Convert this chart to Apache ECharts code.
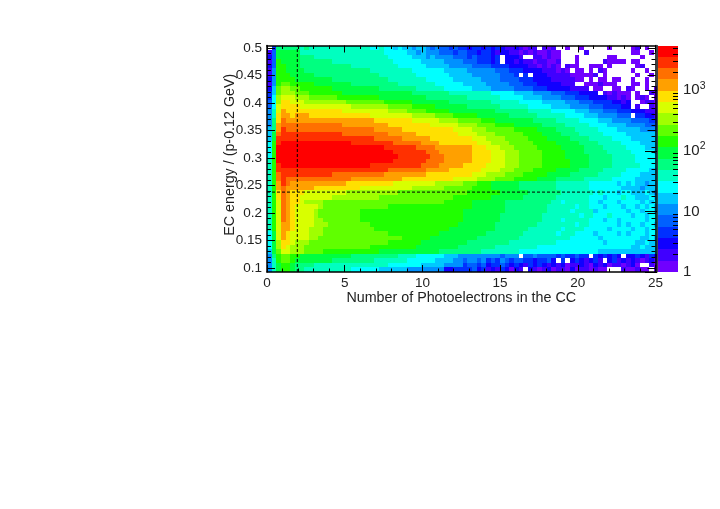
<!DOCTYPE html>
<html>
<head>
<meta charset="utf-8">
<style>
html, body { margin: 0; background: #fff; }
#chart { width: 720px; height: 509px; }
</style>
<script src="https://cdn.jsdelivr.net/npm/echarts@6/dist/echarts.min.js"></script>
</head>
<body>
<div id="chart"></div>
<script>
// bin layout of the 2D histogram
const xBinWidth = 0.3
const yTop = 0.505
const yBottom = 0.0925
const yBinWidth = (yTop - yBottom) / 50
const zMax = 5500

const yTicks = [0.1, 0.15, 0.2, 0.25, 0.3, 0.35, 0.4, 0.45, 0.5]
const yMinorTicks = [0.1, 0.11, 0.12, 0.13, 0.14, 0.15, 0.16, 0.17, 0.18, 0.19, 0.2, 0.21, 0.22, 0.23, 0.24, 0.25, 0.26, 0.27, 0.28, 0.29, 0.3, 0.31, 0.32, 0.33, 0.34, 0.35, 0.36, 0.37, 0.38, 0.39, 0.4, 0.41, 0.42, 0.43, 0.44, 0.45, 0.46, 0.47, 0.48, 0.49, 0.5]
const zTicks = [1, 10, 100, 1000]
const zMinorTicks = [2, 3, 4, 5, 6, 7, 8, 9, 20, 30, 40, 50, 60, 70, 80, 90, 200, 300, 400, 500, 600, 700, 800, 900, 2000, 3000, 4000, 5000]
const cutX = 1.95
const cutY = 0.238

const palette = ['#7000ff', '#4000ff', '#1000ff', '#0030ff', '#0060ff', '#0090ff', '#00c8ff', '#00ffff', '#00ffc0', '#00ff80',
  '#00ff40', '#20ff00', '#60ff00', '#a0ff00', '#d8ff00', '#ffe000', '#ffa000', '#ff7000', '#ff3000', '#ff0000']

// counts per cell, first row is the top of the plot, one entry per 0.3 in x
const counts = [
[0,5,60,60,60,60,60,38,60,38,38,38,38,38,38,38,38,38,38,38,38,38,25,25,38,25,25,16,25,16,16,11,16,16,11,7,11,7,7,5,7,5,5,3,5,5,3,5,3,5,3,2,2,3,2,1,2,2,0,2,1,2,0,0,1,0,0,1,0,0,0,0,0,1,0,0,0,0,1,2,0,1,0,0],
[2,7,92,92,92,92,92,38,38,38,38,38,38,38,38,38,38,38,38,38,38,38,38,38,38,25,25,25,25,25,16,16,11,16,11,11,11,7,7,7,5,7,7,5,5,3,5,5,3,2,3,3,2,2,1,2,1,2,1,1,2,1,1,0,0,0,0,0,2,0,0,0,0,0,0,0,0,0,1,1,0,0,1,0],
[3,7,92,92,92,92,92,60,60,60,38,38,38,38,38,38,38,38,38,38,38,38,38,38,38,38,25,25,25,25,25,16,16,16,11,16,11,11,11,11,7,7,7,5,7,5,5,5,3,5,0,3,3,3,2,0,0,2,2,1,2,1,1,0,0,0,1,0,0,0,0,0,0,1,1,0,0,0,0,0,1,0,0,0],
[2,7,140,92,92,92,92,60,60,60,60,60,60,60,38,38,38,38,38,38,38,38,38,38,38,38,38,25,25,25,25,25,25,16,16,16,16,16,11,11,11,11,7,7,7,5,5,5,3,5,0,3,3,2,3,2,2,1,2,2,1,1,2,0,0,0,1,0,0,0,0,0,2,1,1,1,1,0,1,1,0,0,0,0],
[3,7,140,140,92,92,92,60,60,60,60,60,60,60,60,60,60,60,38,38,38,38,38,38,38,38,38,38,25,25,25,25,25,25,16,16,16,16,16,11,11,11,11,11,7,7,7,7,5,5,5,5,3,3,3,3,2,2,1,2,1,2,1,0,2,1,1,0,0,1,1,1,0,1,0,0,0,0,0,1,2,0,0,0],
[2,11,140,140,92,92,92,92,60,60,60,60,60,60,60,60,60,60,60,60,60,60,38,38,38,38,38,38,38,38,38,25,25,25,25,25,25,25,16,16,16,16,16,11,11,11,11,11,11,7,7,7,5,5,5,3,3,3,3,2,2,2,1,2,1,0,1,1,0,1,0,2,1,0,0,0,0,0,1,0,0,1,0,0],
[2,11,140,140,140,92,92,92,92,92,60,60,60,60,60,60,60,60,60,60,60,60,60,60,38,38,38,38,38,38,38,38,25,25,25,25,25,25,25,16,16,16,16,16,11,11,11,11,11,11,7,7,7,5,0,5,0,3,3,3,2,2,2,2,2,1,1,1,1,1,2,0,1,0,0,0,0,0,0,1,0,0,1,0],
[3,11,140,140,140,140,92,92,92,92,92,92,92,92,60,60,60,60,60,60,60,60,60,60,60,60,38,38,38,38,38,38,38,38,25,25,25,25,25,25,16,16,16,16,16,16,11,11,11,11,7,7,7,7,5,5,5,3,3,3,3,2,2,2,2,2,1,1,0,1,0,1,1,0,1,1,0,0,1,0,0,1,0,0],
[2,11,140,215,215,140,140,140,140,140,92,92,92,92,92,92,92,92,60,60,60,60,60,60,60,60,60,60,38,38,38,38,38,38,38,38,25,25,25,25,25,25,16,16,16,16,16,11,11,11,11,11,7,7,7,5,5,5,3,3,3,3,3,2,2,2,0,0,1,1,1,2,1,1,1,0,0,0,1,1,0,1,0,0],
[3,16,215,330,330,215,215,140,140,140,140,140,140,140,92,92,92,92,92,92,92,92,92,92,60,60,60,60,60,60,60,60,38,38,38,38,38,38,25,25,25,25,25,25,16,16,16,16,11,11,11,11,11,7,7,7,7,5,5,5,3,3,3,3,3,2,2,2,2,0,1,1,0,0,1,1,0,2,1,0,0,1,0,1],
[5,16,215,330,330,330,215,215,215,140,140,140,140,140,140,140,92,92,92,92,92,92,92,92,92,92,92,92,92,92,92,60,60,60,60,60,60,60,60,38,38,38,38,38,38,38,38,38,25,25,25,25,25,16,16,16,16,11,11,11,11,7,7,7,5,5,5,3,3,3,3,0,2,1,2,1,1,1,0,1,0,0,2,1],
[5,25,330,510,510,510,330,330,330,215,215,215,215,215,215,140,140,140,140,140,140,140,140,140,92,92,92,92,92,92,92,92,92,92,60,60,60,60,60,60,60,60,60,38,38,38,38,38,38,38,25,25,25,25,25,16,16,16,16,11,11,11,11,7,7,7,5,5,5,3,3,3,3,2,2,1,2,1,0,1,2,1,0,1],
[7,25,330,790,790,510,510,510,330,330,330,330,330,330,330,330,330,215,215,215,215,215,215,215,215,140,140,140,140,140,140,92,92,92,92,92,92,92,92,60,60,60,60,60,60,60,60,60,38,38,38,38,38,38,25,25,25,25,25,16,16,16,16,16,11,11,11,7,7,7,5,5,5,5,3,3,2,3,0,0,1,2,2,1],
[7,25,510,790,790,790,790,510,510,510,510,510,510,510,510,510,510,510,330,330,330,330,330,330,330,330,215,215,215,215,215,140,140,140,140,140,92,92,92,92,92,92,92,60,60,60,60,60,60,60,38,38,38,38,38,38,25,25,25,25,25,16,16,16,16,11,11,11,11,7,7,7,5,5,5,5,3,3,0,2,0,0,2,1],
[11,38,510,1200,790,790,790,790,790,790,790,790,790,790,790,790,510,510,510,510,510,510,510,510,510,510,330,330,330,330,215,215,215,215,140,140,140,140,140,92,92,92,92,92,92,92,92,92,92,60,60,60,60,60,60,60,38,38,38,38,38,25,25,25,25,25,16,16,16,11,11,11,7,7,7,5,5,5,3,3,3,2,2,2],
[11,38,790,1200,1200,790,1200,1200,1200,790,790,790,790,790,790,790,790,790,790,790,790,790,510,510,510,510,510,510,510,510,510,330,330,330,330,330,215,215,215,215,140,140,140,140,140,92,92,92,92,92,92,92,60,60,60,60,60,60,38,38,38,38,38,38,25,25,25,25,16,16,16,11,11,11,11,7,7,7,0,5,5,3,3,2],
[11,60,790,1850,1200,1200,1200,1200,1200,1200,1200,1200,1200,1200,1200,1200,1200,1200,1200,1200,1200,1200,1200,790,790,790,790,790,790,790,790,510,510,510,510,510,510,330,330,330,330,215,215,215,215,215,140,140,140,92,92,92,92,92,92,92,92,60,60,60,60,60,38,38,38,38,38,25,25,25,25,16,16,16,11,11,11,11,7,7,7,7,5,5],
[11,60,1200,1850,1850,1850,1850,1850,1850,1850,1850,1850,1850,1850,1850,1850,1200,1200,1200,1200,1200,1200,1200,1200,1200,1200,790,790,790,790,790,790,790,790,790,510,510,510,510,510,510,330,330,330,330,215,215,215,215,140,140,140,140,92,92,92,92,92,92,60,60,60,60,60,38,38,38,38,38,25,25,25,25,16,16,16,16,11,11,11,11,7,7,7],
[16,60,1200,2900,1850,1850,1850,1850,1850,1850,1850,1850,1850,1850,1850,1850,1850,1850,1850,1850,1850,1850,1850,1200,1200,1200,1200,1200,1200,790,790,790,790,790,790,790,790,790,790,790,510,510,510,510,330,330,330,215,215,215,215,215,215,140,140,140,140,140,92,92,92,92,60,60,60,60,38,38,38,38,38,25,25,25,25,16,16,16,16,16,11,11,11,11],
[16,92,1850,2900,2900,2900,2900,2900,2900,2900,2900,2900,2900,2900,2900,2900,1850,1850,1850,1850,1850,1850,1850,1850,1850,1850,1200,1200,1200,1200,1200,1200,790,790,790,790,790,790,790,790,790,510,510,510,510,330,330,330,330,215,215,215,215,215,215,140,140,140,140,92,92,92,92,60,60,60,60,38,38,38,38,38,25,25,25,25,25,16,16,16,16,16,16,16],
[16,92,2900,2900,2900,2900,2900,2900,2900,2900,2900,2900,2900,2900,2900,2900,2900,2900,2900,2900,2900,2900,2900,1850,1850,1850,1850,1850,1850,1200,1200,1200,1200,1200,1200,790,790,790,790,790,790,790,790,790,510,510,510,330,330,330,330,215,215,215,215,215,140,140,140,140,92,92,92,92,92,60,60,60,60,38,38,38,38,38,25,25,25,25,16,16,16,16,16,16],
[25,140,2900,4400,4400,4400,4400,4400,4400,4400,4400,4400,4400,4400,4400,4400,4400,4400,2900,2900,2900,2900,2900,2900,2900,2900,2900,1850,1850,1850,1850,1850,1850,1200,1200,1200,1200,790,790,790,790,790,790,790,790,510,510,510,330,330,330,330,215,215,215,215,215,140,140,140,140,140,92,92,92,92,92,60,60,60,60,38,38,38,38,38,25,25,25,25,16,16,16,16],
[25,140,4400,4400,4400,4400,4400,4400,4400,4400,4400,4400,4400,4400,4400,4400,4400,4400,4400,4400,4400,4400,4400,4400,4400,2900,2900,2900,2900,2900,2900,2900,1850,1850,1850,1850,1200,1200,1200,1200,1200,1200,1200,1200,790,790,790,510,510,510,330,330,330,215,215,215,215,215,140,140,140,140,140,92,92,92,92,92,60,60,60,60,38,38,38,38,38,25,25,25,25,16,16,16],
[25,140,4400,4400,4400,4400,4400,4400,4400,4400,4400,4400,4400,4400,4400,4400,4400,4400,4400,4400,4400,4400,4400,4400,4400,4400,4400,2900,2900,2900,2900,2900,2900,2900,1850,1850,1850,1200,1200,1200,1200,1200,1200,1200,790,790,790,790,510,510,510,330,330,330,215,215,215,215,215,140,140,140,140,140,92,92,92,92,60,60,60,60,60,38,38,38,38,38,25,25,25,25,25,16],
[25,140,4400,4400,4400,4400,4400,4400,4400,4400,4400,4400,4400,4400,4400,4400,4400,4400,4400,4400,4400,4400,4400,4400,4400,4400,4400,4400,2900,2900,2900,2900,2900,2900,2900,1850,1850,1850,1200,1200,1200,1200,1200,1200,790,790,790,790,510,510,510,330,330,330,215,215,215,215,215,140,140,140,140,140,92,92,92,92,92,60,60,60,60,60,38,38,38,38,38,25,25,25,25,25],
[38,140,4400,4400,4400,4400,4400,4400,4400,4400,4400,4400,4400,4400,4400,4400,4400,4400,4400,4400,4400,4400,4400,4400,4400,4400,4400,2900,2900,2900,2900,2900,2900,2900,1850,1850,1850,1850,1200,1200,1200,1200,1200,1200,790,790,790,790,510,510,510,330,330,330,215,215,215,215,215,140,140,140,140,140,140,92,92,92,92,60,60,60,60,60,38,38,38,38,38,25,25,25,25,25],
[38,140,2900,4400,4400,4400,4400,4400,4400,4400,4400,4400,4400,4400,4400,4400,4400,4400,4400,4400,4400,4400,2900,2900,2900,2900,2900,2900,2900,2900,2900,2900,2900,1850,1850,1850,1850,1200,1200,1200,1200,1200,790,790,790,790,790,510,510,510,510,330,330,330,215,215,215,215,215,140,140,140,140,140,140,92,92,92,92,60,60,60,60,60,38,38,38,38,38,38,25,25,25,25],
[38,140,2900,2900,2900,2900,2900,2900,2900,2900,2900,2900,2900,2900,2900,2900,2900,2900,2900,2900,2900,2900,2900,2900,2900,2900,1850,1850,1850,1850,1850,1850,1850,1850,1200,1200,1200,1200,1200,790,790,790,790,790,790,790,510,510,510,510,330,330,330,215,215,215,215,140,140,140,140,140,92,92,92,92,92,60,60,60,60,60,38,38,38,38,38,25,25,25,25,25,16,16],
[38,140,1850,2900,2900,2900,2900,2900,2900,2900,2900,2900,2900,2900,1850,1850,1850,1850,1850,1850,1850,1850,1850,1850,1850,1200,1200,1200,1200,1200,1200,1200,1200,1200,790,790,790,790,790,790,790,790,790,790,510,510,510,330,330,330,330,215,215,215,215,140,140,140,140,140,92,92,92,92,92,60,60,60,60,60,60,38,38,38,38,38,25,25,25,25,16,16,16,16],
[38,140,1850,2900,1850,1850,1850,1850,1850,1850,1850,1850,1850,1850,1850,1850,1850,1850,1200,1200,1200,1200,1200,1200,1200,1200,1200,1200,1200,790,790,790,790,790,790,790,790,790,790,790,510,510,510,510,510,330,330,330,330,215,215,215,215,140,140,140,140,140,92,92,92,92,60,60,60,60,60,60,38,38,38,38,38,38,25,25,25,25,25,16,16,16,16,16],
[38,140,1200,2900,1850,1200,1200,1200,1200,1200,1200,1200,1200,1200,1200,1200,1200,790,790,790,790,790,790,790,790,790,790,510,510,510,510,510,510,510,510,510,330,330,330,330,330,330,215,215,215,140,140,140,92,92,92,92,92,92,60,60,60,60,60,60,60,60,38,38,38,38,38,38,38,25,25,25,25,25,25,16,25,16,25,16,16,11,16,16],
[38,140,1200,1850,1200,1200,1200,1200,1200,1200,790,790,790,790,790,790,790,790,790,790,510,510,510,510,510,510,510,510,510,510,510,330,330,330,330,330,330,330,215,215,215,215,215,215,140,140,140,140,92,92,92,92,92,92,60,60,60,60,60,60,60,60,38,38,38,38,38,38,38,25,25,25,25,25,25,25,16,16,16,16,11,16,16,16],
[38,140,790,1850,1200,790,790,790,510,510,510,510,510,510,510,510,510,330,330,330,330,330,330,330,330,330,330,330,215,215,215,215,215,215,215,215,215,215,215,215,215,215,215,140,140,140,140,140,140,140,92,92,92,92,92,92,60,60,60,60,60,60,60,38,38,38,38,38,38,38,25,38,25,25,25,16,25,25,16,16,16,25,16,11],
[38,140,790,1850,1200,790,790,510,510,510,510,510,510,510,330,330,330,330,330,330,330,330,330,330,215,215,215,215,215,215,215,215,215,215,215,215,215,215,215,215,140,140,140,140,140,140,140,140,92,92,92,92,92,92,92,60,60,60,60,60,60,60,38,38,38,38,38,38,38,25,25,25,16,25,25,25,38,25,25,16,16,16,25,16],
[38,140,510,1850,1200,790,790,510,330,330,330,330,215,215,215,215,215,215,215,215,215,215,215,215,215,215,215,215,215,215,215,215,215,215,215,215,215,215,140,140,140,140,140,140,92,92,92,92,92,92,92,60,60,60,60,60,60,60,60,60,60,38,38,25,38,38,38,38,38,25,25,16,25,25,25,16,25,25,25,25,16,25,16,25],
[38,140,510,1850,1200,790,510,510,510,510,510,330,215,215,215,215,215,215,215,215,215,215,215,215,215,215,140,140,140,140,140,140,140,140,140,140,140,140,140,140,140,140,140,140,92,92,92,92,92,92,92,60,60,60,60,60,60,60,60,60,38,38,38,38,38,38,25,38,38,25,25,25,16,25,25,25,16,25,25,16,25,16,25,16],
[38,140,510,1850,1200,790,510,510,510,510,330,215,215,215,215,215,215,215,215,215,140,140,140,140,140,140,140,140,140,140,140,140,140,140,140,140,140,140,140,140,140,140,92,92,92,92,92,92,92,92,92,60,60,60,60,60,60,60,60,60,38,38,38,38,38,25,38,38,38,38,16,25,25,25,25,25,25,16,25,25,16,25,25,16],
[38,140,510,1850,1200,790,510,510,510,510,330,215,215,215,215,215,215,215,215,215,140,140,140,140,140,140,140,140,140,140,140,140,140,140,140,140,140,140,140,140,140,140,92,92,92,92,92,92,92,92,60,60,60,60,60,60,60,60,60,38,38,38,38,38,38,38,38,25,38,38,25,25,25,38,25,25,25,25,16,25,25,16,25,25],
[38,140,510,1850,1200,790,510,510,510,510,330,330,215,215,215,215,215,215,215,215,140,140,140,140,140,140,140,140,140,140,140,140,140,140,140,140,140,140,140,140,140,140,92,92,92,92,92,92,92,92,60,60,60,60,60,60,60,60,60,38,38,38,38,25,38,38,38,38,38,25,25,25,16,25,25,16,25,25,25,25,25,16,25,25],
[38,140,510,1200,1200,790,510,510,510,510,330,330,330,215,215,215,215,215,215,215,215,215,140,140,140,140,140,140,140,140,140,140,140,140,140,140,140,140,140,140,140,92,92,92,92,92,92,92,92,60,60,60,60,60,60,60,60,60,38,38,38,38,38,38,38,38,25,38,38,25,25,25,25,25,25,16,25,16,25,25,16,25,25,16],
[38,140,510,1200,1200,790,510,510,510,330,330,330,215,215,215,215,215,215,215,215,215,215,215,140,140,140,140,140,140,140,140,140,140,140,140,140,140,140,140,92,92,92,92,92,92,92,92,92,92,60,60,60,60,60,60,60,38,38,38,38,38,38,38,25,38,38,38,38,25,25,25,25,25,16,25,25,25,25,16,25,25,16,25,25],
[25,92,510,1200,790,510,510,510,510,330,330,330,215,215,215,215,215,215,215,215,215,215,215,215,215,215,140,140,140,140,140,140,140,140,140,140,140,92,92,92,92,92,92,92,92,92,92,60,60,60,60,60,60,60,60,38,38,38,38,38,38,38,25,38,38,38,25,25,25,25,16,25,25,25,25,16,25,16,25,25,25,16,25,25],
[25,92,510,1200,790,510,510,510,510,330,330,215,215,215,215,215,215,215,215,215,215,215,215,215,215,215,215,215,215,140,140,140,140,140,140,92,92,92,92,92,92,92,92,92,92,60,60,60,60,60,60,60,60,60,38,38,38,38,38,38,38,38,38,38,38,25,25,25,25,25,25,16,25,25,25,25,25,25,25,25,16,16,25,16],
[25,92,330,790,790,510,330,330,330,215,215,215,215,215,215,215,215,215,215,215,215,215,215,215,215,215,140,140,140,140,140,140,140,92,92,92,92,92,92,92,92,92,92,60,60,60,60,60,60,60,60,60,38,38,38,38,38,38,38,38,38,38,25,25,25,25,25,25,25,25,25,25,16,25,25,25,25,25,25,16,16,25,16,16],
[25,92,330,790,510,330,330,330,215,215,215,215,215,215,215,215,215,215,215,215,215,215,140,140,140,140,140,140,140,140,140,140,92,92,92,92,92,92,92,92,92,60,60,60,60,60,60,60,60,38,38,38,38,38,38,38,38,38,25,25,25,25,25,25,25,25,25,25,25,25,25,25,25,25,25,25,25,25,16,16,25,16,16,16],
[16,92,215,510,510,330,330,330,215,215,215,215,140,140,140,140,140,140,140,140,140,140,140,140,92,92,92,92,92,92,92,92,92,92,92,92,92,60,60,60,60,60,60,60,60,60,38,38,38,38,38,38,38,38,25,25,25,25,25,25,25,25,25,25,25,25,25,25,25,25,25,16,16,16,16,16,16,16,16,16,16,16,16,16],
[11,60,140,215,215,140,140,92,92,92,92,92,92,92,92,92,92,92,60,60,60,60,60,60,60,60,60,60,38,38,38,38,25,25,25,25,25,25,16,16,16,11,11,11,11,11,11,11,11,11,7,11,11,11,0,7,7,11,7,7,7,7,5,7,5,5,7,5,5,0,5,3,5,3,5,3,0,3,3,5,3,2,5,3],
[11,38,140,215,215,140,92,92,92,92,92,92,92,92,60,60,60,60,60,60,60,60,60,38,38,38,38,38,38,38,25,25,25,25,25,25,16,16,16,16,11,11,7,11,11,7,11,5,7,5,11,7,5,7,7,5,5,3,5,5,7,3,0,5,0,3,5,3,2,3,5,2,0,3,5,2,3,2,3,2,1,2,3,2],
[11,38,92,140,140,92,60,60,60,60,38,38,38,38,38,38,38,38,38,38,38,38,38,38,38,38,25,25,25,25,25,25,25,16,16,16,16,16,11,11,11,11,5,7,7,5,7,3,5,5,7,5,3,5,3,2,5,3,5,3,2,3,2,3,1,2,2,3,2,1,3,2,3,1,2,2,1,2,3,1,0,0,2,1],
[11,38,92,140,140,92,60,60,38,38,38,38,38,38,38,38,38,38,25,25,25,25,25,25,16,16,16,16,16,16,11,11,11,11,11,11,11,11,3,3,5,5,5,5,7,3,5,2,3,2,5,3,1,3,2,0,3,2,1,2,3,1,2,2,1,3,1,2,2,1,2,1,1,0,0,0,2,1,1,2,1,1,0,1]
]

// one record per non empty cell: [x low edge, y low edge, count]
const cells = []
counts.forEach((row, r) => {
  row.forEach((count, c) => {
    if (count > 0) cells.push([c * xBinWidth, yTop - (r + 1) * yBinWidth, count])
  })
})

function bandOf(count) {
  const band = Math.floor(Math.log10(count) / Math.log10(zMax) * palette.length)
  return Math.min(band, palette.length - 1)
}

// colour bar bands: [low edge, high edge, band index]
const bands = palette.map((color, i) => [
  Math.pow(zMax, i / palette.length),
  Math.pow(zMax, (i + 1) / palette.length),
  i
])

function renderCell(params, api) {
  const from = api.coord([api.value(0), api.value(1)])
  const to = api.coord([api.value(0) + xBinWidth, api.value(1) + yBinWidth])
  const x = Math.round(from[0])
  const y = Math.round(to[1])
  return {
    type: 'rect',
    shape: { x: x, y: y, width: Math.round(to[0]) - x, height: Math.round(from[1]) - y },
    style: { fill: palette[bandOf(api.value(2))] }
  }
}

function renderBand(params, api) {
  const low = api.coord([0, api.value(0)])
  const high = api.coord([1, api.value(1)])
  const y = Math.round(high[1])
  return {
    type: 'rect',
    shape: { x: low[0], y: y, width: high[0] - low[0], height: Math.round(low[1]) - y },
    style: { fill: palette[api.value(2)] }
  }
}

const labelFont = { fontFamily: 'Liberation Sans', fontSize: 13.5, color: '#222' }
const nameFont = { fontFamily: 'Liberation Sans', fontSize: 14.3, color: '#222' }

function xAxisAt(position, showLabel) {
  return {
    type: 'value', gridIndex: 0, position: position, min: 0, max: 25, interval: 5, z: 10,
    axisLine: { show: true, onZero: false, lineStyle: { color: '#000', width: 1.5 } },
    axisTick: { show: true, inside: true, length: 7, lineStyle: { color: '#000' } },
    minorTick: { show: true, splitNumber: 5, length: 3.5, lineStyle: { color: '#000' } },
    axisLabel: Object.assign({ show: showLabel, margin: 4 }, labelFont),
    splitLine: { show: false },
    name: showLabel ? 'Number of Photoelectrons in the CC' : '',
    nameLocation: 'middle', nameGap: 19, nameTextStyle: nameFont
  }
}

function yAxisAt(position, values, length, showLabel) {
  return {
    type: 'value', gridIndex: 0, position: position, min: yBottom, max: yTop, z: 10,
    axisLine: { show: length > 5, onZero: false, lineStyle: { color: '#000', width: 1.5 } },
    axisTick: { show: true, inside: true, length: length, customValues: values, lineStyle: { color: '#000' } },
    axisLabel: Object.assign({ show: showLabel, margin: 5, customValues: values }, labelFont),
    splitLine: { show: false },
    name: showLabel ? 'EC energy / (p-0.12 GeV)' : '',
    nameLocation: 'middle', nameRotate: 90, nameGap: 30, nameMoveOverlap: false,
    nameTextStyle: Object.assign({ padding: [0, 0, 0, 8] }, nameFont)
  }
}

function zLabel(value) {
  if (value === 1) return '1'
  if (value === 10) return '10'
  return '10{sup|' + Math.round(Math.log10(value)) + '}'
}

const option = {
  animation: false,
  backgroundColor: '#fff',
  grid: [
    { left: 267, top: 45.5, width: 388.5, height: 226.5 },
    { left: 657, top: 45.5, width: 21, height: 226.5 }
  ],
  xAxis: [
    xAxisAt('bottom', true),
    xAxisAt('top', false),
    { type: 'value', gridIndex: 1, min: 0, max: 1, show: false }
  ],
  yAxis: [
    yAxisAt('left', yTicks, 8, true),
    yAxisAt('left', yMinorTicks, 4, false),
    yAxisAt('right', yTicks, 8, false),
    yAxisAt('right', yMinorTicks, 4, false),
    {
      type: 'log', gridIndex: 1, position: 'right', min: 1, max: zMax, logBase: 10, z: 10,
      axisLine: { show: true, lineStyle: { color: '#444', width: 1 } },
      axisTick: { show: true, inside: true, length: 12, customValues: zTicks, lineStyle: { color: '#000' } },
      axisLabel: Object.assign({
        margin: 5,
        customValues: zTicks,
        formatter: zLabel,
        rich: { sup: { fontFamily: 'Liberation Sans', fontSize: 10.5, color: '#222', padding: [0, 0, 9, 0] } }
      }, labelFont, { fontSize: 15 }),
      splitLine: { show: false }
    },
    {
      type: 'log', gridIndex: 1, position: 'right', min: 1, max: zMax, logBase: 10, z: 10,
      axisLine: { show: false },
      axisTick: { show: true, inside: true, length: 5, customValues: zMinorTicks, lineStyle: { color: '#000' } },
      axisLabel: { show: false },
      splitLine: { show: false }
    }
  ],
  series: [
    {
      type: 'custom', xAxisIndex: 0, yAxisIndex: 0, data: cells, clip: true, silent: true,
      renderItem: renderCell, encode: { x: 0, y: 1 }
    },
    {
      type: 'line', xAxisIndex: 0, yAxisIndex: 0, showSymbol: false, silent: true, z: 5,
      data: [[cutX, yBottom], [cutX, yTop]],
      lineStyle: { color: '#000', width: 1, type: [3, 2] }
    },
    {
      type: 'line', xAxisIndex: 0, yAxisIndex: 0, showSymbol: false, silent: true, z: 5,
      data: [[0, cutY], [25, cutY]],
      lineStyle: { color: '#000', width: 1, type: [3, 2] }
    },
    {
      type: 'custom', xAxisIndex: 2, yAxisIndex: 4, data: bands, silent: true,
      renderItem: renderBand, encode: { y: [0, 1] }
    }
  ]
}

const chart = echarts.init(document.getElementById('chart'), null, { renderer: 'canvas' })
chart.setOption(option)
</script>
</body>
</html>
